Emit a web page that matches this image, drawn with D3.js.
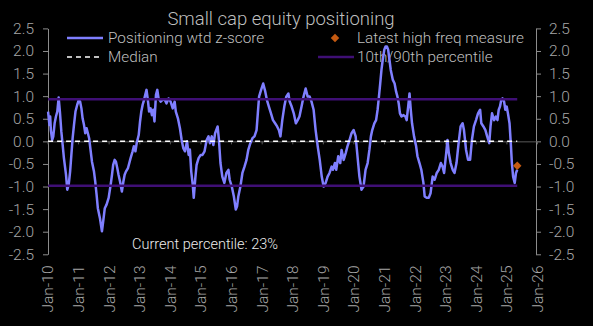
<!DOCTYPE html>
<html><head><meta charset="utf-8">
<script src="https://cdn.jsdelivr.net/npm/d3@7"></script>
<style>
html,body{margin:0;padding:0;background:#000;}
svg{display:block;font-family:Roboto,"Liberation Sans",sans-serif;}
</style></head><body><svg id="c" width="593" height="326"></svg>
<script>
const chartTitle = "Small cap equity positioning";
const legendNames = ["Positioning wtd z-score","Latest high freq measure","Median","10th/90th percentile"];
const annotationText = "Current percentile: 23%";
const zScore = [
["2010-01-08",0.66],["2010-01-24",0.36],["2010-02-02",0.55],["2010-02-10",0.25],["2010-02-26",0.03],["2010-03-11",0.11],["2010-03-27",0.40],["2010-04-12",0.55],["2010-04-28",0.66],["2010-05-14",0.97],["2010-05-29",0.66],["2010-06-15",0.22],["2010-07-01",-0.08],["2010-07-16",-0.37],["2010-08-10",-0.74],["2010-08-25",-1.07],["2010-09-11",-0.96],["2010-09-28",-0.67],["2010-10-13",-0.30],["2010-10-28",0.07],["2010-11-13",0.36],["2010-12-01",0.66],["2010-12-22",0.81],
["2011-01-10",0.92],["2011-01-25",0.88],["2011-02-10",0.73],["2011-02-24",0.51],["2011-03-13",0.36],["2011-03-28",0.18],["2011-04-13",0.29],["2011-04-28",0.18],["2011-05-13",0.07],["2011-06-01",-0.22],["2011-06-16",-0.45],["2011-07-10",-0.67],["2011-07-25",-0.89],["2011-08-10",-1.18],["2011-08-25",-1.48],["2011-09-19",-1.70],["2011-10-13",-1.99],["2011-10-28",-1.77],["2011-11-16",-1.48],["2011-12-07",-1.40],
["2012-01-01",-1.25],["2012-01-25",-0.96],["2012-02-10",-0.74],["2012-02-24",-0.52],["2012-03-13",-0.41],["2012-03-28",-0.45],["2012-04-13",-0.59],["2012-04-28",-0.74],["2012-05-16",-0.89],["2012-06-07",-1.11],["2012-06-25",-0.89],["2012-07-10",-0.74],["2012-07-25",-0.67],["2012-08-19",-0.59],["2012-09-19",-0.37],["2012-10-13",-0.22],["2012-10-28",-0.11],["2012-11-16",-0.22],["2012-12-01",-0.04],["2012-12-25",0.14],
["2013-01-10",0.44],["2013-01-25",0.66],["2013-02-10",0.81],["2013-02-27",0.92],["2013-03-13",1.03],["2013-03-28",1.14],["2013-04-13",0.92],["2013-04-28",0.66],["2013-05-16",0.73],["2013-06-01",0.58],["2013-06-16",0.70],["2013-07-01",0.44],["2013-07-19",1.03],["2013-08-04",1.14],["2013-08-19",0.95],["2013-09-13",0.88],["2013-10-07",0.92],["2013-11-01",0.92],["2013-11-22",0.84],["2013-12-16",0.95],
["2014-01-10",0.88],["2014-02-04",0.73],["2014-02-27",0.88],["2014-03-13",0.66],["2014-04-07",0.51],["2014-05-01",0.29],["2014-05-22",0.03],["2014-06-10",-0.15],["2014-07-01",-0.22],["2014-07-25",0.00],["2014-08-13",-0.30],["2014-08-28",-0.18],["2014-09-13",-0.67],["2014-10-01",-0.96],["2014-10-13",-1.25],["2014-11-01",-0.81],["2014-11-16",-0.52],["2014-12-10",-0.37],
["2015-01-04",-0.30],["2015-01-25",-0.30],["2015-02-19",-0.22],["2015-03-16",0.03],["2015-04-07",0.11],["2015-04-25",-0.04],["2015-05-16",0.11],["2015-06-04",-0.08],["2015-06-25",0.18],["2015-07-25",0.33],["2015-08-10",0.03],["2015-08-28",-0.48],["2015-09-19",-0.78],["2015-10-13",-0.92],["2015-11-07",-0.70],["2015-12-01",-0.63],["2015-12-16",-0.85],
["2016-01-10",-1.00],["2016-02-04",-1.22],["2016-02-27",-1.51],["2016-03-13",-1.44],["2016-03-28",-1.22],["2016-04-22",-1.00],["2016-05-16",-0.70],["2016-06-10",-0.56],["2016-07-04",-0.41],["2016-07-25",-0.19],["2016-08-19",-0.04],["2016-09-13",0.07],["2016-10-07",0.11],["2016-11-01",0.25],["2016-11-16",0.62],["2016-12-01",0.99],["2016-12-25",1.14],
["2017-01-19",1.28],["2017-02-13",1.10],["2017-03-04",0.92],["2017-03-28",0.77],["2017-04-22",0.62],["2017-05-16",0.47],["2017-06-10",0.40],["2017-07-04",0.33],["2017-07-25",0.25],["2017-08-13",0.11],["2017-09-04",0.47],["2017-09-28",0.77],["2017-10-22",0.99],["2017-11-16",1.06],["2017-12-01",0.88],["2017-12-25",0.77],
["2018-01-19",0.62],["2018-02-13",0.40],["2018-03-07",0.47],["2018-03-28",0.55],["2018-04-22",0.77],["2018-05-16",0.99],["2018-06-10",1.17],["2018-07-04",0.99],["2018-07-28",0.99],["2018-08-19",0.88],["2018-09-13",0.70],["2018-10-07",0.25],["2018-11-01",-0.11],["2018-11-25",-0.41],["2018-12-19",-0.78],
["2019-01-10",-1.00],["2019-02-04",-0.92],["2019-02-27",-0.78],["2019-03-22",-0.70],["2019-04-16",-0.56],["2019-05-01",-0.63],["2019-05-25",-0.48],["2019-06-10",-0.63],["2019-07-04",-0.33],["2019-07-28",-0.48],["2019-08-13",-0.19],["2019-09-07",-0.41],["2019-10-01",-0.26],["2019-10-22",-0.11],["2019-11-16",0.03],["2019-12-10",0.18],
["2020-01-04",0.25],["2020-01-28",0.11],["2020-02-19",-0.33],["2020-03-13",-0.78],["2020-04-07",-1.07],["2020-05-01",-1.00],["2020-05-25",-0.63],["2020-06-19",-0.48],["2020-07-10",-0.19],["2020-07-28",0.11],["2020-08-13",0.25],["2020-09-07",0.40],["2020-09-28",0.47],["2020-10-16",0.70],["2020-11-01",0.99],["2020-11-16",1.28],["2020-12-01",1.58],["2020-12-16",1.80],
["2021-01-04",2.03],["2021-01-19",2.10],["2021-02-04",2.10],["2021-02-19",2.03],["2021-03-07",1.80],["2021-03-22",1.58],["2021-04-16",1.36],["2021-05-07",1.28],["2021-05-25",1.10],["2021-06-10",0.99],["2021-06-25",0.84],["2021-07-10",0.62],["2021-07-28",0.55],["2021-08-19",0.58],["2021-09-13",0.55],["2021-09-28",0.47],["2021-10-16",0.77],["2021-11-01",1.06],["2021-11-16",0.70],["2021-12-01",0.40],["2021-12-25",0.11],
["2022-01-19",-0.11],["2022-02-04",-0.33],["2022-02-28",-0.48],["2022-03-22",-0.63],["2022-04-16",-0.92],["2022-05-01",-1.22],["2022-05-25",-1.25],["2022-06-19",-1.25],["2022-07-10",-1.15],["2022-08-04",-0.78],["2022-08-28",-0.85],["2022-09-22",-0.70],["2022-10-16",-0.63],["2022-11-10",-0.48],["2022-12-01",-0.56],["2022-12-19",-0.70],
["2023-01-13",-0.26],["2023-01-28",0.03],["2023-02-13",-0.26],["2023-03-07",-0.48],["2023-04-01",-0.63],["2023-04-22",-0.70],["2023-05-16",-0.48],["2023-06-10",-0.04],["2023-07-04",0.33],["2023-07-28",0.40],["2023-08-13",0.25],["2023-09-07",-0.19],["2023-10-01",-0.41],["2023-10-25",-0.41],["2023-11-16",0.03],["2023-12-10",0.33],
["2024-01-04",0.47],["2024-01-28",0.62],["2024-02-22",0.70],["2024-03-07",0.40],["2024-04-01",0.33],["2024-04-25",0.25],["2024-05-16",0.11],["2024-06-10",-0.04],["2024-06-25",0.33],["2024-07-13",0.62],["2024-08-07",0.47],["2024-08-28",0.55],["2024-09-16",0.47],["2024-10-01",0.70],["2024-10-16",0.77],["2024-11-01",0.92],["2024-11-16",0.95],["2024-12-04",0.88],["2024-12-19",0.70],
["2025-01-04",0.77],["2025-01-19",0.62],["2025-02-07",0.40],["2025-02-22",-0.04],["2025-03-07",-0.48],["2025-03-22",-0.78],["2025-04-10",-0.92],["2025-04-25",-0.70],["2025-05-10",-0.63]
];
const latestHighFreq = ["2025-05-10",-0.54];
const medianValue = 0.0;
const percentile10 = -0.98;
const percentile90 = 0.93;
const yTickValues = [2.5,2.0,1.5,1.0,0.5,0.0,-0.5,-1.0,-1.5,-2.0,-2.5];
const xDomainDates = ["2010-01-01","2026-01-01"];

const parse = d3.timeParse("%Y-%m-%d");
const data = zScore.map(d => ({date: parse(d[0]), value: d[1]}));
const svg = d3.select("#c");
svg.append("rect").attr("width",593).attr("height",326).attr("fill","#000");

const x = d3.scaleTime().domain(xDomainDates.map(parse)).range([47.5, 537]);
const y = d3.scaleLinear().domain([-2.5, 2.5]).range([254.3, 28.4]);
const fmt = d => d.toFixed(1);
const tickCol = "#a6a6a6", axisCol = "#8c8c8c", textCol = "#bfbfbf";

function styleAxis(g){
  g.selectAll(".domain").attr("stroke", axisCol).attr("stroke-width",1);
  g.selectAll(".tick line").attr("stroke", axisCol);
  g.selectAll(".tick text").attr("fill", tickCol).style("font-size","15.5px").style("font-weight","300");
}
svg.append("g").attr("transform","translate(48,0)")
  .call(d3.axisLeft(y).tickValues(yTickValues).tickFormat(fmt).tickSize(5).tickSizeOuter(0).tickPadding(9))
  .call(styleAxis).attr("font-family",null);
svg.append("g").attr("transform","translate(536,0)")
  .call(d3.axisRight(y).tickValues(yTickValues).tickFormat(fmt).tickSize(5).tickSizeOuter(0).tickPadding(8))
  .call(styleAxis).attr("font-family",null);

// zero-line axis with year ticks
const zg = svg.append("g").attr("transform",`translate(0,${y(0)})`)
  .call(d3.axisBottom(x).ticks(d3.timeYear.every(1)).tickFormat("").tickSize(3).tickSizeOuter(0));
zg.selectAll(".domain").attr("stroke","#595959");
zg.selectAll(".tick line").attr("stroke","#595959");

// rotated date labels
const lg = svg.append("g").attr("transform","translate(0,265.5)")
  .call(d3.axisBottom(x).ticks(d3.timeYear.every(1)).tickFormat(d3.timeFormat("%b-%y")).tickSize(0).tickSizeOuter(0));
lg.select(".domain").remove();
lg.attr("font-family",null);
lg.selectAll(".tick text").attr("transform","rotate(-90)").attr("text-anchor","end")
  .attr("x",0).attr("y",0).attr("dy","0.35em")
  .attr("fill",tickCol).style("font-size","15.5px").style("font-weight","300");

// title
svg.append("text").attr("x",281).attr("y",24.5).attr("text-anchor","middle")
  .attr("fill",textCol).style("font-size","18.5px").style("font-weight","300").text(chartTitle);

// legend
const leg = svg.append("g").style("font-size","15.3px").style("font-weight","300").attr("fill",textCol);
leg.append("line").attr("x1",67).attr("x2",103).attr("y1",38).attr("y2",38).attr("stroke","#7f7fff").attr("stroke-width",2.5);
leg.append("text").attr("x",108).attr("y",38).attr("dy","0.35em").text(legendNames[0]);
leg.append("path").attr("d",d3.symbol(d3.symbolSquare,36)()).attr("transform","translate(335,38) rotate(45)").attr("fill","#c55a11");
leg.append("text").attr("x",357).attr("y",38).attr("dy","0.35em").text(legendNames[1]);
leg.append("line").attr("x1",67).attr("x2",103).attr("y1",57).attr("y2",57).attr("stroke","#fff").attr("stroke-width",1.5).attr("stroke-dasharray","5,4");
leg.append("text").attr("x",108).attr("y",57).attr("dy","0.35em").text(legendNames[2]);
leg.append("line").attr("x1",318).attr("x2",354).attr("y1",57).attr("y2",57).attr("stroke","#3f0f75").attr("stroke-width",2.5);
leg.append("text").attr("x",357).attr("y",57).attr("dy","0.35em").text(legendNames[3]);

// z-score line
const line = d3.line().x(d => x(d.date)).y(d => y(d.value));
svg.append("path").datum(data).attr("d",line).attr("fill","none")
  .attr("stroke","#7f7fff").attr("stroke-width",2.5).attr("stroke-linejoin","round");

const first = data[0].date, last = data[data.length-1].date;
// median
svg.append("path").datum([{date:first,value:medianValue},{date:last,value:medianValue}]).attr("d",line)
  .attr("stroke","#ffffff").attr("stroke-width",1.5).attr("stroke-dasharray","5,4").attr("fill","none");
// percentiles
[percentile10, percentile90].forEach(p => {
  svg.append("path").datum([{date:first,value:p},{date:last,value:p}]).attr("d",line)
    .attr("stroke","#3f0f75").attr("stroke-width",2.5).attr("fill","none");
});
// latest high freq
svg.append("path").attr("d",d3.symbol(d3.symbolSquare,36)())
  .attr("transform",`translate(${x(parse(latestHighFreq[0]))},${y(latestHighFreq[1])}) rotate(45)`)
  .attr("fill","#c55a11");

// annotation
svg.append("text").attr("x",132).attr("y",244).attr("dy","0.35em")
  .attr("fill","#ececec").style("font-size","14.5px").style("font-weight","300").text(annotationText);
</script></body></html>
